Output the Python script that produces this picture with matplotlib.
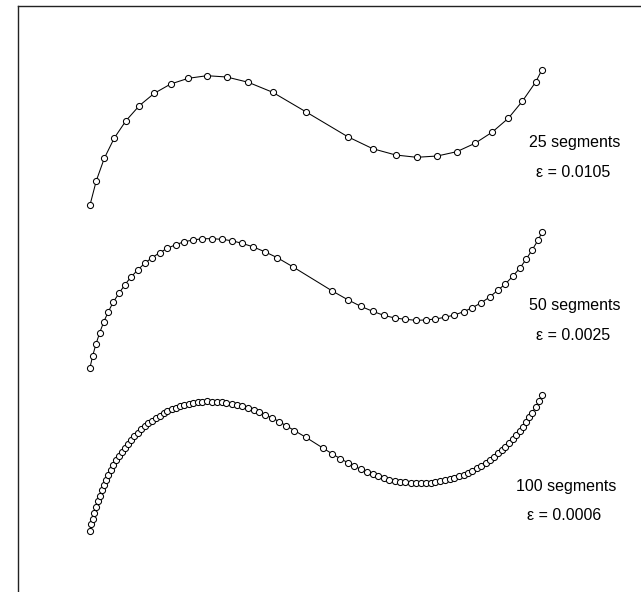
import numpy as np
import matplotlib.pyplot as plt

plt.rcParams['font.family'] = ['Liberation Sans', 'DejaVu Sans']

# punkte der kurve (einheit ~ pixel, ab startpunkt jeder kurve, y nach oben)
x25 = [0, 6.3, 14.3, 24.3, 36, 49.3, 64.3, 80.7, 98.3, 117, 136.7, 158.3, 182.7,
       215.7, 257.7, 282.7, 305.7, 326.7, 347.3, 366.7, 385, 402, 418.3, 432.3, 445.7, 452]
y25 = [0, 24.3, 46.7, 67, 84.3, 99.3, 111.7, 121, 126.7, 129.3, 128, 122.7, 112.7,
       93.3, 68.3, 56.3, 50, 47.7, 49, 53.3, 61.7, 72.7, 86.7, 103.7, 123, 135.3]

x50 = [0, 2.7, 6, 9.7, 13.7, 18.3, 23.3, 29, 34.7, 40.7, 47.7, 54.7, 62, 69.7, 77.3,
       85.7, 94.3, 103.3, 112.3, 122, 131.7, 141.7, 152, 162.7, 174.7, 187.3, 202.7,
       242.3, 257.7, 270.7, 282.7, 293.7, 304.7, 315.3, 325.7, 335.7, 345.3, 355,
       364.3, 373.7, 382.3, 391.3, 399.7, 407.7, 415.3, 422.7, 430, 436.3, 442.3,
       448.3, 452]
y50 = [0, 11.9, 23.6, 34.9, 45.6, 55.9, 65.6, 74.3, 82.6, 90.3, 97.6, 104.3, 109.9,
       114.9, 119.3, 122.9, 125.9, 127.6, 128.9, 128.9, 128.3, 126.9, 124.3, 120.9,
       115.9, 109.9, 100.9, 76.6, 67.9, 61.3, 56.3, 52.3, 49.6, 48.3, 47.3, 47.6,
       48.6, 50.3, 52.6, 55.9, 59.9, 64.9, 70.6, 77.3, 83.6, 91.3, 99.6, 108.6,
       117.9, 127.9, 135.3]

x100 = [0, 1.2, 2.7, 4.3, 6, 7.8, 9.7, 11.6, 13.7, 15.9, 18.3, 20.7, 23.3, 26.1, 29,
        31.8, 34.7, 37.6, 40.7, 44.1, 47.7, 51.1, 54.7, 58.3, 62, 65.8, 69.7, 73.5,
        77.3, 81.5, 85.7, 90, 94.3, 98.8, 103.3, 107.8, 112.3, 116.7, 121.7, 126.7,
        131.7, 136.3, 141.7, 147, 152.3, 157.7, 163.7, 169.3, 175.3, 182.3, 189, 196,
        204.3, 215.7, 233.3, 241.7, 250, 257.7, 264.2, 270.7, 276.7, 282.7, 288.2,
        293.7, 299.2, 304.7, 310, 315.3, 320.5, 325.7, 330.7, 335.7, 340.5, 345.3,
        350.2, 355, 359.7, 364.3, 369, 373.7, 378, 382.3, 386.8, 391.3, 395.5, 399.7,
        403.7, 407.7, 411.5, 415.3, 419, 422.7, 426.4, 430, 433.2, 436.3, 439.3,
        442.3, 445.7, 449, 452]
y100 = [0, 6.1, 11.9, 17.9, 23.6, 29.4, 34.9, 40.4, 45.6, 50.9, 55.9, 60.9, 65.6,
        70.1, 74.3, 78.6, 82.6, 86.6, 90.3, 94.1, 97.6, 101.1, 104.3, 107.3, 109.9,
        112.6, 114.9, 117.3, 119.3, 121.3, 122.9, 124.6, 125.9, 126.9, 127.6, 128.4,
        128.9, 129.1, 129, 128.8, 128.3, 127.8, 126.9, 125.8, 124.2, 122.7, 120.5,
        118.3, 115.6, 112.6, 109, 104.9, 100, 93.3, 82.2, 77, 72, 67.9, 64.4, 61.3,
        58.6, 56.3, 54.1, 52.3, 50.8, 49.6, 48.8, 48.3, 47.7, 47.3, 47.3, 47.6, 48,
        48.6, 49.3, 50.3, 51.3, 52.6, 54.1, 55.9, 57.7, 59.9, 62.2, 64.9, 67.6, 70.6,
        73.8, 77.3, 80.3, 83.6, 87.2, 91.3, 95.3, 99.6, 103.9, 108.6, 113.1, 117.9,
        123.6, 129.3, 135.3]

curves = [(x25, y25), (x50, y50), (x100, y100)]
seg_labels = ['25 segments', '50 segments', '100 segments']
eps_labels = ['\u03b5 = 0.0105', '\u03b5 = 0.0025', '\u03b5 = 0.0006']

# layout (pixel)
W, H = 641, 592
frame_left, frame_top = 17.5, 6.3
origin = (90, 205)               # startpunkt der obersten kurve
row_shift = [0, 162.6, 325.5]    # abstand der kurven nach unten
label_pos = [(485, 58), (485, 58), (476, 40)]

fig = plt.figure(figsize=(W / 100, H / 100), dpi=100)
extra = 0.05
ax = fig.add_axes([frame_left / W, -extra, 1.0, 1 - frame_top / H + extra])
ax.set_xlim(frame_left - origin[0], frame_left - origin[0] + W)
ax.set_ylim(origin[1] - H * (1 + extra), origin[1] - frame_top)

for k, (xs, ys) in enumerate(curves):
    yy = np.array(ys) - row_shift[k]
    ax.plot(xs, yy, '-o', color='black', lw=0.75, ms=4.4, mfc='white',
            mec='black', mew=0.75, clip_on=False)
    lx, ly = label_pos[k]
    ax.text(lx, ly - row_shift[k], seg_labels[k], ha='center', va='baseline',
            fontsize=11.5)
    ax.text(lx - 2, ly - 30 - row_shift[k], eps_labels[k], ha='center',
            va='baseline', fontsize=11.5)

ax.set_xticks([])
ax.set_yticks([])
for s in ['right', 'bottom']:
    ax.spines[s].set_visible(False)
for s in ['left', 'top']:
    ax.spines[s].set_linewidth(1.0)
    ax.spines[s].set_color('#222222')

fig.savefig('out.png', dpi=100)
